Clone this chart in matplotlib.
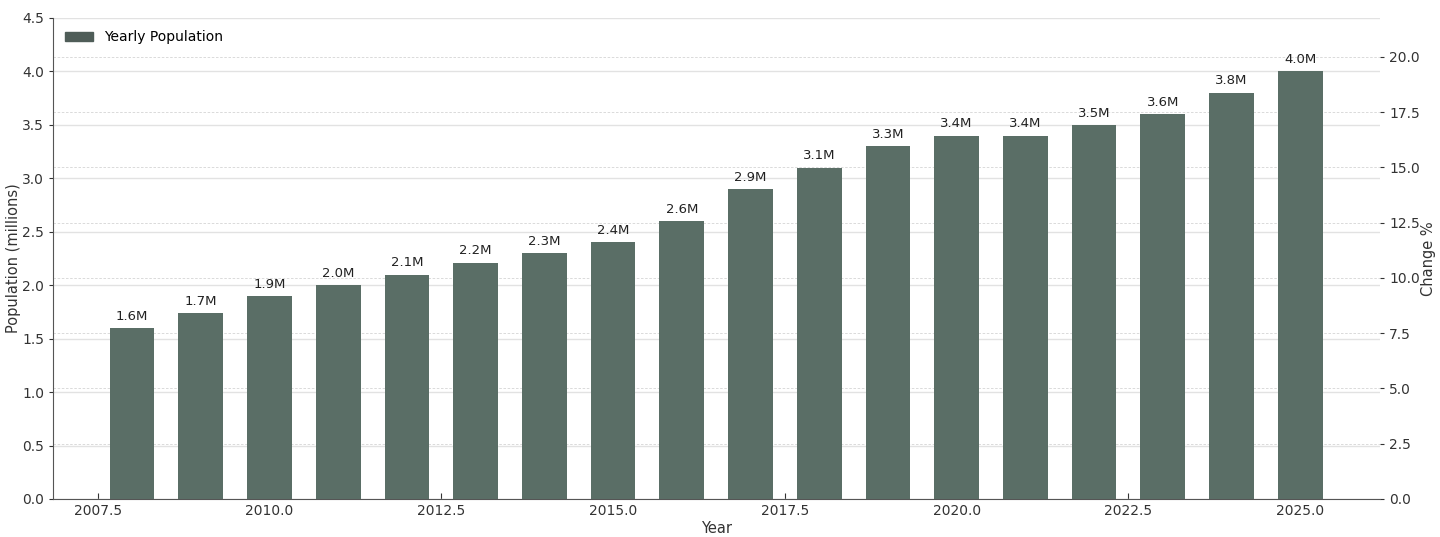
import matplotlib.pyplot as plt

years = [2008, 2009, 2010, 2011, 2012, 2013, 2014, 2015, 2016,
         2017, 2018, 2019, 2020, 2021, 2022, 2023, 2024, 2025]
population = [1.6, 1.74, 1.9, 2.0, 2.1, 2.21, 2.3, 2.4, 2.6,
              2.9, 3.1, 3.3, 3.4, 3.4, 3.5, 3.6, 3.8, 4.0]
left_ticks = [0.0, 0.5, 1.0, 1.5, 2.0, 2.5, 3.0, 3.5, 4.0, 4.5]
right_ticks = [0.0, 2.5, 5.0, 7.5, 10.0, 12.5, 15.0, 17.5, 20.0]
x_ticks = [2007.5, 2010.0, 2012.5, 2015.0, 2017.5, 2020.0, 2022.5, 2025.0]

fig = plt.figure(figsize=(14.4, 5.37), dpi=100)
ax = fig.add_axes([0.0368, 0.0708, 0.9215, 0.8957])
ax2 = ax.twinx()

bars = ax.bar(years, population, width=0.65, color='#5a6e66', label='Yearly Population', zorder=3)
for b, v in zip(bars, population):
    ax.text(b.get_x() + b.get_width() / 2, v + 0.05, f'{v:.1f}M',
            ha='center', va='bottom', fontsize=9.5, color='#222222', zorder=4)

ax.set_xlim(2006.85, 2026.16)
ax.set_ylim(0, 4.5)
ax.set_yticks(left_ticks)
ax.set_xticks(x_ticks)
ax.set_xticklabels([f'{t:.1f}' for t in x_ticks])
ax.set_xlabel('Year', fontsize=10.5, color='#333333', labelpad=2)
ax.set_ylabel('Population (millions)', fontsize=10.5, color='#333333', labelpad=1)
ax.grid(axis='y', color='#e2e2e2', linewidth=1, zorder=0)
ax.tick_params(axis='x', direction='in', length=4, labelsize=10, colors='#333333')
ax.tick_params(axis='y', direction='out', length=3, labelsize=10, colors='#333333')
for s in ['top', 'right']:
    ax.spines[s].set_visible(False)
for s in ['left', 'bottom']:
    ax.spines[s].set_color('#555555')

ax2.set_ylim(0, 21.76)
ax2.set_yticks(right_ticks)
ax2.set_yticklabels([f'{t:.1f}' for t in right_ticks])
ax2.set_ylabel('Change %', fontsize=10.5, color='#333333', labelpad=1)
ax2.grid(axis='y', color='#d4d4d4', linestyle=(0, (3, 2)), linewidth=0.6)
ax2.tick_params(axis='y', direction='out', length=3, labelsize=10, colors='#333333')
for s in ax2.spines.values():
    s.set_visible(False)
ax.set_zorder(ax2.get_zorder() + 1)
ax.patch.set_visible(False)

leg = ax.legend(loc='upper left', frameon=False, fontsize=10)
for p in leg.get_patches():
    p.set_color('#4f5d58')

fig.savefig('out.png', dpi=100)
